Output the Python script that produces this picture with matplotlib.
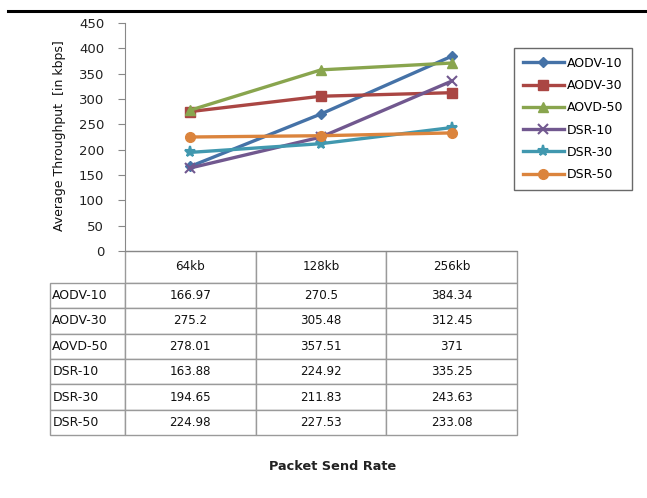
import matplotlib
matplotlib.use("Agg")
import matplotlib.pyplot as plt
from matplotlib.table import Table
from matplotlib.lines import Line2D

categories = ["64kb", "128kb", "256kb"]
series_names = ["AODV-10", "AODV-30", "AOVD-50", "DSR-10", "DSR-30", "DSR-50"]
aodv_10 = [166.97, 270.5, 384.34]
aodv_30 = [275.2, 305.48, 312.45]
aovd_50 = [278.01, 357.51, 371]
dsr_10 = [163.88, 224.92, 335.25]
dsr_30 = [194.65, 211.83, 243.63]
dsr_50 = [224.98, 227.53, 233.08]
series_values = [aodv_10, aodv_30, aovd_50, dsr_10, dsr_30, dsr_50]
y_ticks = [0, 50, 100, 150, 200, 250, 300, 350, 400, 450]
value_labels = [["166.97", "270.5", "384.34"],
                ["275.2", "305.48", "312.45"],
                ["278.01", "357.51", "371"],
                ["163.88", "224.92", "335.25"],
                ["194.65", "211.83", "243.63"],
                ["224.98", "227.53", "233.08"]]

colors = ["#4572A7", "#AA4643", "#89A54E", "#71588F", "#4198AF", "#DB843D"]
markers = ["D", "s", "^", "x", "*", "o"]
msizes = [5.5, 7, 7.5, 7, 8, 7]

W, H = 647, 498
fig = plt.figure(figsize=(W / 100, H / 100), dpi=100)
plt.rcParams["font.family"] = ["DejaVu Sans"]

ax_l, ax_r, ax_t, ax_b = 125, 517, 23, 251
ax = fig.add_axes([ax_l / W, 1 - ax_b / H, (ax_r - ax_l) / W, (ax_b - ax_t) / H])

x = list(range(len(categories)))
for name, vals, c, m, ms in zip(series_names, series_values, colors, markers, msizes):
    ax.plot(x, vals, color=c, lw=2.4, marker=m, ms=ms, mec=c, mew=1.5 if m in ("x", "*") else 1,
            label=name, zorder=3)

ax.set_xlim(-0.5, len(categories) - 0.5)
ax.set_ylim(0, 450)
ax.set_yticks(y_ticks)
ax.set_xticks([])
ax.tick_params(axis="y", labelsize=9.5, colors="#222222", length=5, color="#888888", pad=10)
for s in ("top", "right"):
    ax.spines[s].set_visible(False)
ax.spines["left"].set_color("#888888")
ax.spines["bottom"].set_color("#888888")
ax.patch.set_alpha(0)

fig.text(60 / W, 1 - 136 / H, "Average Throughput  [in kbps]", rotation=90,
         ha="center", va="center", fontsize=9, color="#111111")

# data table below the plot area
label_w = 75
col_w = (ax_r - ax_l) / len(categories)
head_h = 32
row_h = (435 - ax_b - head_h) / len(series_names)
axw = ax_r - ax_l
axh = ax_b - ax_t
tbl_w = label_w + axw
tbl_h = 435 - ax_b
tbl = Table(ax, bbox=[-label_w / axw, -tbl_h / axh, tbl_w / axw, tbl_h / axh])
edge = "#9a9a9a"
for j, cat in enumerate(categories):
    c = tbl.add_cell(0, j + 1, col_w, head_h, text=cat, loc="center", edgecolor=edge)
    c.get_text().set_fontsize(8.6)
hidden = tbl.add_cell(0, 0, label_w, head_h, text="", edgecolor="none")
hidden.set_facecolor("none")
for i, name in enumerate(series_names):
    c = tbl.add_cell(i + 1, 0, label_w, row_h, text=name, loc="left", edgecolor=edge)
    c.get_text().set_fontsize(9)
    c.PAD = 0.03
    for j in range(len(categories)):
        c = tbl.add_cell(i + 1, j + 1, col_w, row_h, text=value_labels[i][j], loc="center",
                         edgecolor=edge)
        c.get_text().set_fontsize(8.6)
tbl.auto_set_font_size(False)
for cell in tbl.get_celld().values():
    cell.set_linewidth(1.0)
    cell.get_text().set_color("#111111")
ax.add_table(tbl)

fig.text(333 / W, 1 - 466 / H, "Packet Send Rate", ha="center", va="center",
         fontsize=9.3, fontweight="bold", color="#222222")

leg = ax.legend(loc="upper left", bbox_to_anchor=(514 / W, 1 - 48 / H),
                bbox_transform=fig.transFigure, fontsize=9, frameon=True, fancybox=False,
                handlelength=3.3, handletextpad=0.2, borderpad=0.7, labelspacing=0.74,
                borderaxespad=0)
leg.get_frame().set_edgecolor("#444444")
leg.get_frame().set_linewidth(1.0)

fig.add_artist(Line2D([8 / W, 1], [1 - 11 / H, 1 - 11 / H], color="black", lw=2.2,
                      transform=fig.transFigure))

fig.savefig("out.png", dpi=100)
